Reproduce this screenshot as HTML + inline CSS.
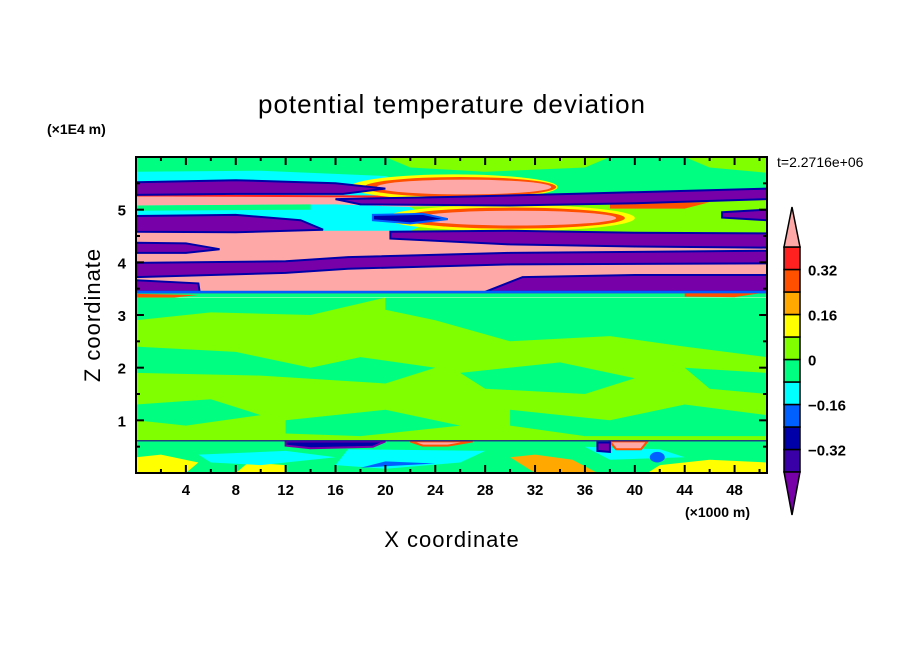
<!DOCTYPE html>
<html><head><meta charset="utf-8"><style>
body{margin:0;background:#fff;}
svg{display:block;font-family:"Liberation Sans",sans-serif;}
</style></head><body>
<svg id="chart" width="904" height="654" viewBox="0 0 904 654" xmlns="http://www.w3.org/2000/svg">
<text x="452" y="113" font-size="26" text-anchor="middle" letter-spacing="1">potential temperature deviation</text>
<text x="47" y="134" font-size="14" font-weight="bold">(×1E4 m)</text>
<text x="777" y="167" font-size="14">t=2.2716e+06</text>
<text x="0" y="0" font-size="22" text-anchor="middle" transform="translate(100,315) rotate(-90)" letter-spacing="1">Z coordinate</text>
<text x="452" y="547" font-size="22" text-anchor="middle" letter-spacing="1">X coordinate</text>
<text x="685" y="517" font-size="14" font-weight="bold">(×1000 m)</text>
<defs><clipPath id="pc"><rect x="136" y="157" width="631" height="316"/></clipPath></defs>
<g id="field" clip-path="url(#pc)"></g>
<g id="axes"></g>
<g id="cbar"></g>
</svg>
<script>
const levelColors=["#7800a8","#3a00a8","#0000a8","#0060ff","#00ffff","#00ff80","#80ff00","#ffff00","#ffa800","#ff5000","#ff2020","#ffa8a8"];
const levelBounds=[-0.4,-0.32,-0.24,-0.16,-0.08,0,0.08,0.16,0.24,0.32,0.4];
const cbarLabels=["0.32","0.16","0","-0.16","-0.32"];
const cbarLabelValues=[0.32,0.16,0,-0.16,-0.32];
const xTicks=[4,8,12,16,20,24,28,32,36,40,44,48];
const zTicks=[1,2,3,4,5];
// regions: [level index, edge level index or -1, points [x(km), z(1E4 m)]]
const topRegion=[
 [5,-1,[[0,3.34],[50.6,3.34],[50.6,6],[0,6]]],
 [6,-1,[[20,6],[38,6],[36,5.8],[28,5.72],[22,5.8]]],
 [6,-1,[[44,6],[50.6,6],[50.6,5.7],[46,5.8]]],
 [4,-1,[[0,5.72],[10,5.74],[20,5.64],[23,5.42],[22,5.1],[0,5.0]]]
];
const upperBack=[
 [11,10,[[0,5.27],[20,5.25],[30,5.12],[50.6,5.2],[50.6,3.43],[0,3.43]]],
 [6,-1,[[22,5.06],[30,5.08],[40,5.12],[50.6,5.18],[50.6,4.56],[22,4.6]]],
 [4,-1,[[0,5.08],[16,5.1],[22,5.05],[24,4.8],[22,4.6],[0,4.6]]],
 [5,-1,[[0,5.08],[14,5.1],[14,5.0],[0,4.98]]],
 [9,-1,[[38,5.12],[46,5.14],[44,5.02],[38,5.02]]]
];
const ellipses=[
 [7,25.5,5.43,8.3,0.24],[9,26,5.43,7.7,0.19],[11,26.3,5.43,7,0.14],
 [7,30,4.84,10,0.25],[9,30.2,4.84,9,0.2],[11,30.5,4.84,8,0.14],
 [3,41.8,0.3,0.6,0.1]
];
const upperFront=[
 [0,2,[[0,5.52],[8,5.56],[16,5.5],[20,5.4],[16.6,5.3],[8,5.3],[0,5.28]]],
 [0,2,[[16,5.2],[25,5.24],[35,5.3],[50.6,5.4],[50.6,5.2],[40,5.12],[30,5.08],[18,5.1]]],
 [2,3,[[19,4.9],[23,4.92],[25,4.82],[22,4.74],[19,4.8]]],
 [0,2,[[0,4.88],[8,4.9],[13.2,4.8],[15,4.62],[8,4.57],[0,4.58]]],
 [0,2,[[47,4.95],[50.6,5.0],[50.6,4.8],[47,4.85]]],
 [0,2,[[20.4,4.58],[30,4.6],[40,4.56],[50.6,4.55],[50.6,4.28],[40,4.3],[30,4.34],[20.4,4.45]]],
 [0,2,[[0,4.37],[4,4.36],[6.7,4.25],[4,4.18],[0,4.18]]],
 [0,2,[[0,3.99],[12,4.02],[17,4.1],[30,4.18],[50.6,4.22],[50.6,3.98],[30,3.96],[17,3.88],[12,3.8],[0,3.72]]],
 [0,2,[[31,3.72],[40,3.76],[50.6,3.76],[50.6,3.44],[28,3.44]]],
 [0,2,[[0,3.66],[5,3.6],[5.1,3.44],[0,3.44]]],
 [3,-1,[[0,3.46],[50.6,3.46],[50.6,3.41],[0,3.41]]],
 [9,-1,[[0,3.4],[5,3.38],[3,3.33],[0,3.33]]],
 [9,-1,[[44,3.41],[50,3.41],[48,3.34],[44,3.35]]]
];
const lowerRegion=[
 [6,-1,[[0,0.6],[50.6,0.6],[50.6,3.33],[0,3.33]]],
 [5,-1,[[20,3.33],[50.6,3.33],[50.6,2.2],[44,2.4],[38,2.6],[30,2.5],[24,2.9],[20,3.1]]],
 [5,-1,[[0,3.33],[20,3.33],[14,3.0],[6,3.05],[0,2.9]]],
 [5,-1,[[0,2.4],[8,2.3],[14,2.0],[18,2.2],[24,2.0],[20,1.7],[10,1.85],[0,1.9]]],
 [5,-1,[[26,1.9],[34,2.1],[40,1.8],[36,1.5],[28,1.6]]],
 [5,-1,[[0,1.3],[6,1.4],[10,1.1],[4,0.9],[0,1.0]]],
 [5,-1,[[12,1.0],[20,1.2],[26,0.9],[18,0.7],[12,0.75]]],
 [5,-1,[[30,1.2],[38,1.0],[44,1.3],[50.6,1.1],[50.6,0.7],[36,0.7],[30,0.9]]],
 [5,-1,[[44,2.0],[50.6,1.9],[50.6,1.5],[46,1.6]]],
 [5,-1,[[0,0],[50.6,0],[50.6,0.6],[0,0.6]]],
 [7,-1,[[0,0],[4,0],[5,0.2],[2,0.35],[0,0.3]]],
 [7,-1,[[8,0],[12,0],[12,0.15],[9,0.2]]],
 [7,-1,[[41,0],[50.6,0],[50.6,0.2],[46,0.25],[42,0.15]]],
 [4,-1,[[5,0.35],[12,0.42],[16,0.3],[10,0.15],[6,0.2]]],
 [4,-1,[[17,0.45],[28,0.42],[26,0.2],[20,0.08],[16,0.15]]],
 [4,-1,[[36,0.5],[42,0.45],[44,0.3],[38,0.25]]],
 [3,-1,[[18,0.1],[24,0.18],[20,0.22]]],
 [8,-1,[[32,0],[37,0],[35,0.25],[32,0.35],[30,0.3]]],
 [2,0,[[12,0.6],[20,0.6],[19,0.5],[14,0.47],[12,0.52]]],
 [11,9,[[22,0.6],[27,0.6],[25,0.52],[23,0.52]]],
 [11,9,[[38,0.6],[41,0.6],[40.5,0.45],[38.5,0.45]]],
 [0,2,[[37,0.58],[38,0.58],[38,0.4],[37,0.42]]],
 [2,-1,[[0,0.62],[50.6,0.62],[50.6,0.6],[0,0.6]]]
];
const X0=136,X1=767,Y0=473,Y1=157,XMAX=50.6,ZMAX=6;
function sx(v){return X0+v*(X1-X0)/XMAX;}
function sz(v){return Y0-v*(Y0-Y1)/ZMAX;}
const NS="http://www.w3.org/2000/svg";
const field=document.getElementById('field');
function drawPoly(p){
  const el=document.createElementNS(NS,'polygon');
  
  
  el.setAttribute('points',p[2].map(q=>sx(q[0]).toFixed(1)+','+sz(q[1]).toFixed(1)).join(' '));
  el.setAttribute('fill',levelColors[p[0]]);
  if(p[1]>=0){el.setAttribute('stroke',levelColors[p[1]]);el.setAttribute('stroke-width','2');}
  field.appendChild(el);
}
function drawEll(e){
  const el=document.createElementNS(NS,'ellipse');
  
  
  el.setAttribute('cx',sx(e[1]));el.setAttribute('cy',sz(e[2]));
  el.setAttribute('rx',sx(e[3])-sx(0));el.setAttribute('ry',sz(0)-sz(e[4]));
  el.setAttribute('fill',levelColors[e[0]]);
  field.appendChild(el);
}
topRegion.forEach(drawPoly);
upperBack.forEach(drawPoly);
ellipses.slice(0,6).forEach(drawEll);
upperFront.forEach(drawPoly);
lowerRegion.forEach(drawPoly);
ellipses.slice(6).forEach(drawEll);

const axes=document.getElementById('axes');
const frame=document.createElementNS(NS,'rect');


frame.setAttribute('x',X0);frame.setAttribute('y',Y1);frame.setAttribute('width',X1-X0);frame.setAttribute('height',Y0-Y1);
frame.setAttribute('fill','none');frame.setAttribute('stroke','#000');frame.setAttribute('stroke-width','2');
axes.appendChild(frame);
function line(x1,y1,x2,y2,n){const l=document.createElementNS(NS,'line');


l.setAttribute('x1',x1);l.setAttribute('y1',y1);l.setAttribute('x2',x2);l.setAttribute('y2',y2);l.setAttribute('stroke','#000');l.setAttribute('stroke-width','2');axes.appendChild(l);}
function text(x,y,s,anchor,n,g){const t=document.createElementNS(NS,'text');


t.setAttribute('x',x);t.setAttribute('y',y);t.setAttribute('font-size','15');t.setAttribute('font-weight','bold');t.setAttribute('text-anchor',anchor);t.textContent=s;(g||axes).appendChild(t);}
for(let v=2;v<XMAX;v+=2){const big=v%4===0;const L=big?8:4;
 line(sx(v),Y0,sx(v),Y0-L,'x-tick');line(sx(v),Y1,sx(v),Y1+L,'x-tick-top');}
xTicks.forEach(v=>text(sx(v),Y0+22,String(v),'middle','x-tick-label'));
for(let v=0.5;v<ZMAX;v+=0.5){const big=Math.abs(v-Math.round(v))<0.01;const L=big?8:4;
 line(X0,sz(v),X0+L,sz(v),'z-tick');line(X1,sz(v),X1-L,sz(v),'z-tick-right');}
zTicks.forEach(v=>text(X0-10,sz(v)+6,String(v),'end','z-tick-label'));
const cb=document.getElementById('cbar');
const CX0=784,CX1=800,CTOP=247,CBOT=472;
function cy(v){return CBOT-(v-levelBounds[0])*(CBOT-CTOP)/(levelBounds[levelBounds.length-1]-levelBounds[0]);}
for(let i=0;i<levelBounds.length-1;i++){
 const r=document.createElementNS(NS,'rect');
 
 
 r.setAttribute('x',CX0);r.setAttribute('y',cy(levelBounds[i+1]));r.setAttribute('width',CX1-CX0);r.setAttribute('height',cy(levelBounds[i])-cy(levelBounds[i+1]));
 r.setAttribute('fill',levelColors[i+1]);r.setAttribute('stroke','#000');r.setAttribute('stroke-width','1.5');cb.appendChild(r);}
const up=document.createElementNS(NS,'polygon');


up.setAttribute('points',`${CX0},${CTOP} ${(CX0+CX1)/2},${CTOP-40} ${CX1},${CTOP}`);up.setAttribute('fill',levelColors[11]);up.setAttribute('stroke','#000');up.setAttribute('stroke-width','1.5');cb.appendChild(up);
const dn=document.createElementNS(NS,'polygon');


dn.setAttribute('points',`${CX0},${CBOT} ${(CX0+CX1)/2},${CBOT+43} ${CX1},${CBOT}`);dn.setAttribute('fill',levelColors[0]);dn.setAttribute('stroke','#000');dn.setAttribute('stroke-width','1.5');cb.appendChild(dn);
cbarLabelValues.forEach((v,i)=>text(808,cy(v)+6,cbarLabels[i].replace('-','\u2212'),'start','colorbar-label',cb));
</script>
</body></html>
